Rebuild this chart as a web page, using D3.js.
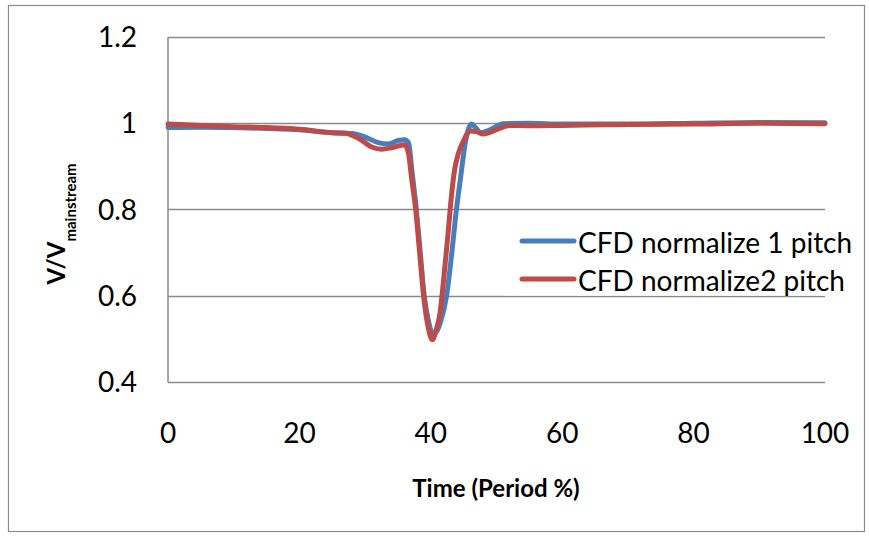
<!DOCTYPE html>
<html><head><meta charset="utf-8">
<script src="https://cdn.jsdelivr.net/npm/d3@7"></script>
<style>body{margin:0;background:#fff}svg{display:block}</style>
</head><body>
<svg id="c" width="869" height="537"></svg>
<script>
const seriesNames = ["CFD normalize 1 pitch", "CFD normalize2 pitch"];
const seriesColors = ["#4a7ebb", "#be4b48"];
const xTicks = [0, 20, 40, 60, 80, 100];
const yTicks = [0.4, 0.6, 0.8, 1, 1.2];
const blueT = [0,5,10,15,20,25,28,30,32,33.5,35,36,36.6,37.2,37.8,38.4,39,39.6,40.3,40.9,41.5,42.4,43.2,43.9,44.5,45.2,45.7,46.2,46.8,47.6,49,51,55,60,70,80,90,100];
const blueV = [0.990,0.991,0.990,0.988,0.985,0.978,0.976,0.968,0.955,0.952,0.960,0.962,0.955,0.88,0.80,0.70,0.60,0.545,0.512,0.517,0.54,0.60,0.70,0.80,0.87,0.95,0.985,0.998,0.99,0.978,0.985,0.999,1.0,0.998,0.998,1.0,1.002,1.001];
const redT = [0,5,10,15,20,25,27,29,31,32.5,34,36,36.6,37.1,37.7,38.3,38.9,39.5,40.25,40.8,41.4,42.0,42.6,43.2,43.6,44.2,45,46,47,48,50,52,55,60,70,80,90,100];
const redV = [0.998,0.995,0.992,0.990,0.986,0.978,0.977,0.965,0.945,0.940,0.943,0.950,0.93,0.87,0.80,0.70,0.60,0.535,0.498,0.52,0.56,0.645,0.74,0.84,0.89,0.93,0.96,0.982,0.980,0.975,0.985,0.995,0.994,0.995,0.997,0.998,1.0,0.999];

const svg = d3.select("#c");
const font = "Lato, 'Open Sans', sans-serif";
const x = d3.scaleLinear().domain([0,100]).range([168,825]);
const y = d3.scaleLinear().domain([0.4,1.2]).range([382,37]);

// outer border
svg.append("rect").attr("x",8.5).attr("y",5.5).attr("width",856).attr("height",526)
  .attr("fill","#fff").attr("stroke","#8c8c8c").attr("stroke-width",1.2);

// gridlines
svg.append("g").selectAll("line").data(yTicks.filter(d=>d>0.4)).join("line")
  .attr("x1",x(0)).attr("x2",x(100)).attr("y1",d=>Math.round(y(d))+0.5).attr("y2",d=>Math.round(y(d))+0.5)
  .attr("stroke","#8a8a8a").attr("stroke-width",1.5);
// axes lines
svg.append("line").attr("x1",x(0)).attr("x2",x(0)).attr("y1",y(1.2)).attr("y2",y(0.4)+0.5).attr("stroke","#8a8a8a").attr("stroke-width",1.5);
svg.append("line").attr("x1",x(0)).attr("x2",x(100)).attr("y1",Math.round(y(0.4))+0.5).attr("y2",Math.round(y(0.4))+0.5).attr("stroke","#8a8a8a").attr("stroke-width",1.5);

// tick labels
svg.append("g").selectAll("text").data(yTicks).join("text")
  .attr("x",137).attr("y",d=>y(d)).attr("dy","0.36em").attr("text-anchor","end")
  .attr("font-family",font).attr("font-size",28).text(d=>d);
svg.append("g").selectAll("text").data(xTicks).join("text")
  .attr("x",d=>x(d)).attr("y",433).attr("dy","0.36em").attr("text-anchor","middle")
  .attr("font-family",font).attr("font-size",28).text(d=>d);

// axis titles
svg.append("text").attr("x",496).attr("y",497).attr("text-anchor","middle")
  .attr("font-family",font).attr("font-weight","bold").attr("font-size",24).text("Time (Period %)");
const yt = svg.append("text").attr("transform","translate(65,224) rotate(-90)").attr("text-anchor","middle")
  .attr("font-family",font).attr("font-weight","bold").attr("font-size",24);
yt.append("tspan").text("V/V");
yt.append("tspan").attr("font-size",15).attr("dy",11).text("mainstream");

// lines
const line = d3.line().x(d=>x(d[0])).y(d=>y(d[1])).curve(d3.curveMonotoneX);
const blue = blueT.map((t,i)=>[t,blueV[i]]);
const red = redT.map((t,i)=>[t,redV[i]]);
[blue, red].forEach((data,i)=>{
  svg.append("path").datum(data).attr("d",line).attr("fill","none")
    .attr("stroke",seriesColors[i]).attr("stroke-width",5).attr("stroke-linejoin","round").attr("stroke-linecap","round");
});

// legend
svg.append("rect").attr("x",504).attr("y",218).attr("width",321).attr("height",78).attr("fill","#fff").attr("opacity",0.6);
const lg = svg.append("g").selectAll("g").data(seriesNames).join("g")
  .attr("transform",(d,i)=>`translate(0,${241+i*38})`);
lg.append("line").attr("x1",522).attr("x2",574).attr("stroke",(d,i)=>seriesColors[i]).attr("stroke-width",5).attr("stroke-linecap","round");
lg.append("text").attr("x",578).attr("y",1.5).attr("dy","0.36em").attr("font-family",font).attr("font-size",28).text(d=>d);
</script>
</body></html>
